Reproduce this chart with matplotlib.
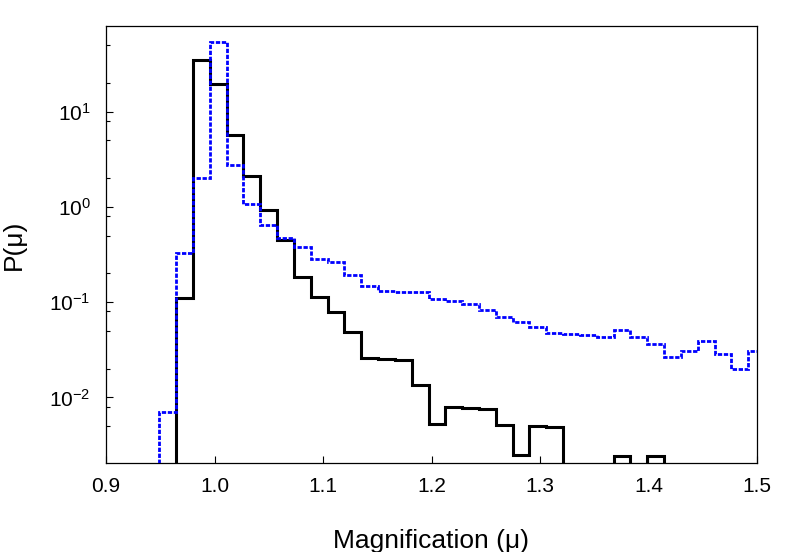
import numpy as np
from matplotlib import pyplot as plt
from matplotlib import rcParams
from matplotlib.ticker import LogLocator, NullFormatter, NullLocator

rcParams['figure.figsize'] = 7.89, 5.52
rcParams['figure.dpi'] = 100
rcParams['font.family'] = ['Liberation Sans', 'DejaVu Sans']
rcParams['mathtext.fontset'] = 'custom'
rcParams['mathtext.rm'] = 'Liberation Sans'
rcParams['mathtext.it'] = 'Liberation Sans:italic'
rcParams['mathtext.default'] = 'regular'

# histogram binning
bin_start = 0.9491
bin_width = 0.01551

# black solid histogram, bins from bin_start (0 = empty bin)
p_black = [0, 0.111, 34.6, 19.4, 5.61, 2.11, 0.916, 0.447, 0.184, 0.114,
           0.078, 0.0488, 0.0257, 0.0252, 0.0248, 0.0135, 0.0053, 0.0080, 0.0078, 0.0076,
           0.0051, 0.0025, 0.0050, 0.0049, 0, 0, 0, 0.0024, 0, 0.0024]

# blue dashed histogram
p_blue = [0.0070, 0.329, 2.01, 53.1, 2.74, 1.06, 0.643, 0.473, 0.375, 0.283,
          0.265, 0.192, 0.147, 0.131, 0.129, 0.127, 0.109, 0.102, 0.0953, 0.0824,
          0.0691, 0.0621, 0.0551, 0.0476, 0.0458, 0.0450, 0.0426, 0.0508, 0.0432, 0.0362,
          0.0263, 0.0306, 0.0393, 0.0285, 0.0198, 0.0308]

xticks = [0.9, 1.0, 1.1, 1.2, 1.3, 1.4, 1.5]

floor = 1e-4


def edges_for(values):
    return bin_start + bin_width * np.arange(len(values) + 1)


fig = plt.figure()
ax = fig.add_axes([106 / 789, 1 - 463 / 552, 651 / 789, 437 / 552])

for vals, color, ls in [(p_blue, '#0000ff', (0, (1.55, 0.6))), (p_black, 'black', '-')]:
    v = np.array(vals, dtype=float)
    v = np.where(v > 0, v, floor)
    lw = 2.0 if color != 'black' else 2.2
    ax.stairs(v, edges_for(vals), baseline=floor, color=color, linewidth=lw,
              linestyle=ls, zorder=3 if color == 'black' else 4)

ax.set_yscale('log')
ax.set_xlim(0.9, 1.5)
ax.set_ylim(0.00205, 79)

ax.set_xticks(xticks)
ax.set_xticklabels(['%.1f' % t for t in xticks])
ax.xaxis.set_minor_locator(NullLocator())
ax.yaxis.set_major_locator(LogLocator(base=10, numticks=10))
ax.yaxis.set_minor_locator(LogLocator(base=10, subs=[2, 5, 8], numticks=10))
ax.yaxis.set_minor_formatter(NullFormatter())

ax.tick_params(which='both', direction='in', top=False, right=False, labelsize=15, width=0.8)
ax.tick_params(axis='x', which='major', length=5, pad=10)
ax.tick_params(axis='y', which='major', length=5, pad=11)
ax.tick_params(which='minor', length=3)
for s in ax.spines.values():
    s.set_linewidth(0.9)

ax.set_xlabel('Magnification (\u03bc)', fontsize=19, labelpad=23.5)
ax.set_ylabel('P(\u03bc)', fontsize=19, labelpad=17)

plt.savefig('out.png', dpi=100)
